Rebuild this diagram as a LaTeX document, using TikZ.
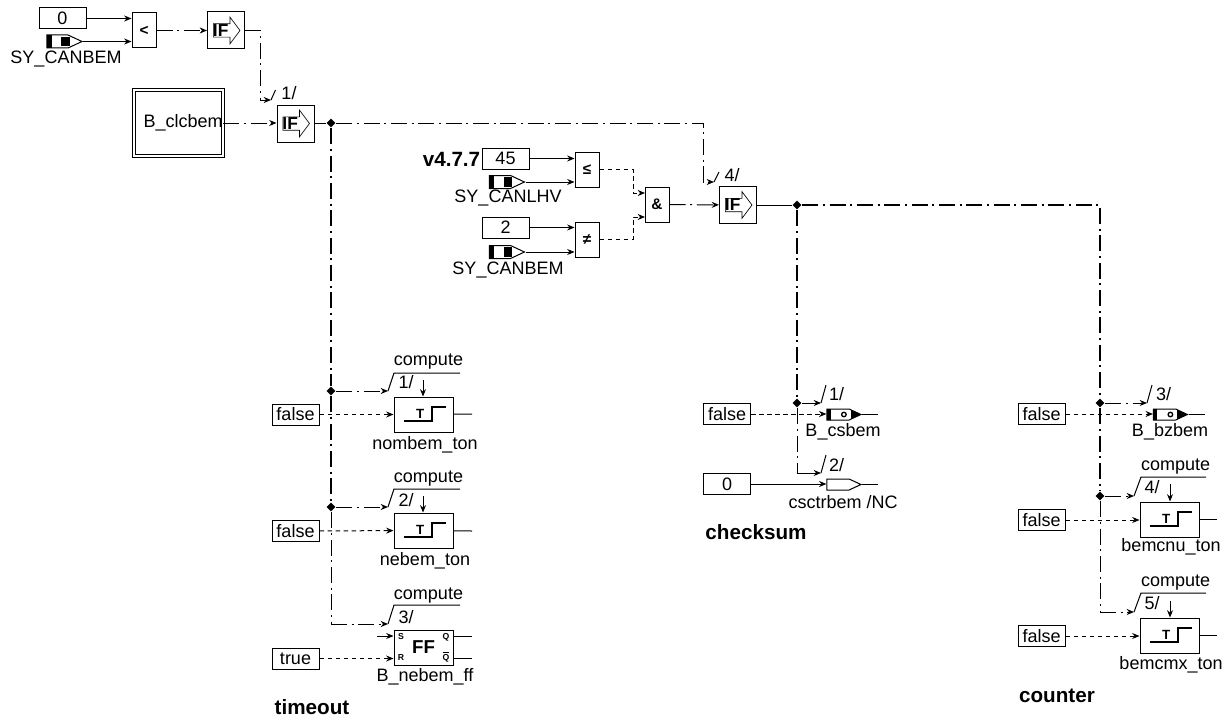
\documentclass[tikz,border=0pt]{standalone}
\usepackage{fontspec}
\setmainfont{Liberation Sans}
\usetikzlibrary{positioning, arrows.meta, shapes.geometric, shapes.symbols, calc}

\newcommand{\ifmark}{\hspace*{-8pt}IF}
\newcommand{\tonmark}{\raisebox{1.5pt}{\hspace*{-5pt}T}}

\begin{document}
\begin{tikzpicture}[
    x=0.75pt, y=-0.75pt,
    line width=0.75pt,
    >={Stealth[length=5.5pt, width=4.5pt]},
    box/.style={draw, minimum width=35.25pt, minimum height=15.75pt, inner sep=0pt, font=\fontsize{13.5}{15}\selectfont},
    op_box/.style={draw, minimum width=18pt, minimum height=26.25pt, inner sep=0pt, font=\fontsize{11.5}{13}\selectfont\bfseries},
    if_box/.style={draw, minimum width=27.75pt, minimum height=27.75pt, inner sep=0pt, font=\fontsize{13}{15}\selectfont\bfseries,
        path picture={\draw[line width=0.5pt] ([shift={(-9.5pt,5pt)}]path picture bounding box.center) -- ++(12.5pt,0) -- ++(0,5pt) -- ++(7.5pt,-10pt) -- ++(-7.5pt,-10pt) -- ++(0,5pt) -- ++(-12.5pt,0) -- cycle;}},
    ton_box/.style={draw, minimum width=44.25pt, minimum height=26.25pt, inner sep=0pt, font=\fontsize{10}{12}\selectfont\bfseries,
        path picture={\draw[line width=1.5pt] ([shift={(-15pt,-5pt)}]path picture bounding box.center) -- ++(21pt,0) -- ++(0,10.5pt) -- ++(11pt,0);}},
    in_pill/.style={draw, signal, signal to=east, signal pointer angle=50, minimum width=26.25pt, minimum height=9.75pt, inner sep=0pt,
        path picture={\fill ([shift={(-13.2pt,-5pt)}]path picture bounding box.center) rectangle ++(3.8pt,10pt);
            \fill ([shift={(-2.6pt,-3.6pt)}]path picture bounding box.center) rectangle ++(6.7pt,7.2pt);}},
    out_pill/.style={draw, signal, signal to=east, signal pointer angle=50, minimum width=25.5pt, minimum height=8.25pt, inner sep=0pt,
        path picture={\fill ([shift={(-12.75pt,-5pt)}]path picture bounding box.center) rectangle ++(3pt,10pt);
            \fill ([shift={(5.25pt,-5pt)}]path picture bounding box.center) rectangle ++(8pt,10pt);
            \draw[line width=1pt] (path picture bounding box.center) circle (1.7pt);}},
    nc_pill/.style={draw, signal, signal to=east, signal pointer angle=50, minimum width=25.5pt, minimum height=8.25pt, inner sep=0pt},
    junc/.style={diamond, fill=black, minimum size=7pt, inner sep=0pt},
    txt/.style={inner sep=0pt, font=\fontsize{13.5}{15}\selectfont},
    head/.style={inner sep=0pt, font=\fontsize{15.5}{17}\selectfont\bfseries},
    pin/.style={inner sep=0pt, font=\fontsize{6.5}{7}\selectfont\bfseries},
    ctrl/.style={dash pattern=on 12pt off 3.5pt on 1.5pt off 3.5pt},
    ctrl_bold/.style={ctrl, line width=0.95pt},
    data/.style={dash pattern=on 3.5pt off 2.5pt}
]
\useasboundingbox (0,0) rectangle (1226,717);

% ================= Top left: enable chain =================

\node[box] (const_zero_a) at (62.5,18.5) {0};
\node[in_pill] (pill_a) at (57.5,41.5) {};
\node[txt] (pill_a_txt) at (66,59) {SY\_CANBEM};
\node[op_box] (cmp_lt) at (144,30.5) {<};
\node[if_box] (if_a) at (226,30.5) {\ifmark};

\node[box, double, double distance=1.5pt, minimum width=66pt, minimum height=49pt] (clcbem) at (178.5,123) {\hspace*{7pt}B\_clcbem};
\node[if_box] (if_b) at (295.5,123.5) {\ifmark};
\node[junc] (junc_main) at (331,123) {};

\coordinate (corner_a) at (260,100);
\coordinate (tick_a) at (271,100);
\coordinate (tick_a_top) at (275.5,90);
\node[txt] (num_a) at (289,93) {1/};

\draw[->] (const_zero_a) -- (const_zero_a -| cmp_lt.west);
\draw[->] (pill_a) -- (pill_a -| cmp_lt.west);
\draw[->, ctrl] (cmp_lt) -- (if_a);
\draw[->, ctrl] (if_a) -| (corner_a) -- (tick_a);
\draw (tick_a) -- (tick_a_top);
\draw[->, ctrl] (clcbem) -- (clcbem -| if_b.west);
\draw (if_b.east |- junc_main) -- (junc_main);

% ================= Middle: version check =================

\node[head] (version) at (451.5,159) {v4.7.7};
\node[box] (const_45) at (505.5,158.5) {45};
\node[in_pill] (pill_b) at (500,182) {};
\node[txt] (pill_b_txt) at (508,198) {SY\_CANLHV};
\node[box] (const_two) at (505.5,227.5) {2};
\node[in_pill] (pill_c) at (500,252) {};
\node[txt] (pill_c_txt) at (508,270) {SY\_CANBEM};
\node[op_box] (cmp_le) at (587,169.5) {≤};
\node[op_box] (cmp_ne) at (587,239.5) {≠};
\node[op_box] (and_gate) at (657,204.5) {\&};
\node[if_box] (if_c) at (738,205) {\ifmark};
\node[junc] (junc_check) at (797,205) {};

\coordinate (in_and_a) at (645,193);
\coordinate (in_and_b) at (645,217);
\coordinate (corner_and_a) at (633,193);
\coordinate (corner_and_b) at (633,217);
\coordinate (corner_c) at (703,182);
\coordinate (tick_c) at (714,182);
\coordinate (tick_c_top) at (719,172);
\node[txt] (num_c) at (732,175) {4/};

\draw[->] (const_45) -- (const_45 -| cmp_le.west);
\draw[->] (pill_b) -- (pill_b -| cmp_le.west);
\draw[->] (const_two) -- (const_two -| cmp_ne.west);
\draw[->] (pill_c) -- (pill_c -| cmp_ne.west);
\draw[->, data] (cmp_le) -| (corner_and_a) -- (in_and_a);
\draw[->, data] (cmp_ne) -| (corner_and_b) -- (in_and_b);
\draw[->, ctrl] (and_gate) -- (if_c);
\draw[->, ctrl] (junc_main) -| (corner_c) -- (tick_c);
\draw (tick_c) -- (tick_c_top);
\draw (if_c) -- (junc_check);

% ================= timeout =================

\node[junc] (junc_t_a) at (331,391) {};
\node[junc] (junc_t_b) at (331,507) {};
\coordinate (corner_t) at (331,624);

\node[box] (false_a) at (295.5,414.5) {false};
\node[ton_box] (nombem) at (423.5,414.5) {\tonmark};
\node[txt] (nombem_txt) at (425,445) {nombem\_ton};
\node[box] (false_b) at (295.5,531) {false};
\node[ton_box] (nebem) at (423.5,530.5) {\tonmark};
\node[txt] (nebem_txt) at (425,561) {nebem\_ton};
\node[box] (true_a) at (295.5,658.5) {true};
\node[draw, minimum width=44.25pt, minimum height=26.25pt, inner sep=0pt, font=\fontsize{14}{16}\selectfont\bfseries] (flipflop) at (423.5,647.5) {FF};
\node[txt] (flipflop_txt) at (425,677) {B\_nebem\_ff};
\node[head] (timeout_txt) at (312,707) {timeout};

\node[pin] (pin_s) at (401,637) {S};
\node[pin] (pin_r) at (401,658) {R};
\node[pin] (pin_q) at (446,637) {Q};
\node[pin] (pin_nq) at (446,657) {$\overline{\mbox{Q}}$};

% compute rails
\coordinate (tick_t_a) at (388,391);
\coordinate (rail_t_a) at (394,373);
\coordinate (rail_t_a_end) at (460,373);
\coordinate (drop_t_a) at (423,380);
\node[txt] (compute_a) at (428.5,362) {compute};
\node[txt] (num_t_a) at (406,382) {1/};

\coordinate (tick_t_b) at (388,507);
\coordinate (rail_t_b) at (394,489);
\coordinate (rail_t_b_end) at (460,489);
\coordinate (drop_t_b) at (423,496);
\node[txt] (compute_b) at (428.5,479) {compute};
\node[txt] (num_t_b) at (406,500) {2/};

\coordinate (tick_t_c) at (388,624);
\coordinate (rail_t_c) at (394,605);
\coordinate (rail_t_c_end) at (460,605);
\node[txt] (compute_c) at (428.5,596) {compute};
\node[txt] (num_t_c) at (406,617) {3/};

\coordinate (end_t_a) at (472,414);
\coordinate (end_t_b) at (472,531);
\coordinate (in_t_s) at (377,636);
\coordinate (end_t_q) at (472,636);
\coordinate (end_t_nq) at (472,658);

\draw[ctrl_bold] (junc_main) -- (junc_t_a);
\draw[ctrl_bold] (junc_t_a) -- (junc_t_b);
\draw[ctrl] (junc_t_b) -- (corner_t);
\draw[->, ctrl] (junc_t_a) -- (tick_t_a);
\draw[->, ctrl] (junc_t_b) -- (tick_t_b);
\draw[->, ctrl] (corner_t) -- (tick_t_c);
\draw (tick_t_a) -- (rail_t_a) -- (rail_t_a_end);
\draw (tick_t_b) -- (rail_t_b) -- (rail_t_b_end);
\draw (tick_t_c) -- (rail_t_c) -- (rail_t_c_end);
\draw[->] (drop_t_a) -- (drop_t_a |- nombem.north);
\draw[->] (drop_t_b) -- (drop_t_b |- nebem.north);
\draw[->, data] (false_a) -- (nombem);
\draw[->, data] (false_b) -- (nebem);
\draw[->, data] (true_a) -- (true_a -| flipflop.west);
\draw[->] (in_t_s) -- (in_t_s -| flipflop.west);
\draw (nombem) -- (end_t_a);
\draw (nebem) -- (end_t_b);
\draw (end_t_q -| flipflop.east) -- (end_t_q);
\draw (end_t_nq -| flipflop.east) -- (end_t_nq);

% ================= checksum =================

\node[junc] (junc_c_a) at (797,403) {};
\coordinate (corner_c_b) at (797,473);
\coordinate (tick_s_a) at (821,403);
\coordinate (tick_s_a_top) at (826,385);
\coordinate (tick_s_b) at (821,473);
\coordinate (tick_s_b_top) at (826,455);
\node[txt] (num_s_a) at (836.5,394) {1/};
\node[txt] (num_s_b) at (836.5,465) {2/};

\node[box] (false_c) at (727,414) {false};
\node[out_pill] (csbem) at (838,414.5) {};
\node[txt] (csbem_txt) at (843,432) {B\_csbem};
\node[box] (const_zero_b) at (727,484) {0};
\node[nc_pill] (csctr) at (838,484.5) {};
\node[txt] (csctr_txt) at (843,502) {csctrbem /NC};
\node[head] (checksum_txt) at (756,532) {checksum};

\coordinate (end_s_a) at (878,414.5);
\coordinate (end_s_b) at (878,484.5);

\draw[ctrl_bold] (junc_check) -- (junc_c_a);
\draw[ctrl] (junc_c_a) -- (corner_c_b);
\draw[->] (junc_c_a) -- (tick_s_a);
\draw[->] (corner_c_b) -- (tick_s_b);
\draw (tick_s_a) -- (tick_s_a_top);
\draw (tick_s_b) -- (tick_s_b_top);
\draw[->, data] (false_c) -- (false_c -| csbem.west);
\draw[->] (const_zero_b) -- (const_zero_b -| csctr.west);
\draw (csbem) -- (end_s_a);
\draw (csctr) -- (end_s_b);

% ================= counter =================

\node[junc] (junc_n_a) at (1100,403) {};
\node[junc] (junc_n_b) at (1100,496) {};
\coordinate (corner_top) at (1100,205);
\coordinate (corner_n) at (1100,612);

\node[box] (false_d) at (1041.5,414) {false};
\node[out_pill] (bzbem) at (1164.5,414.5) {};
\node[txt] (bzbem_txt) at (1170,432) {B\_bzbem};
\node[box] (false_e) at (1041.5,520) {false};
\node[ton_box] (bemcnu) at (1169.5,519.5) {\tonmark};
\node[txt] (bemcnu_txt) at (1171,547) {bemcnu\_ton};
\node[box] (false_f) at (1041.5,636) {false};
\node[ton_box] (bemcmx) at (1169.5,635.5) {\tonmark};
\node[txt] (bemcmx_txt) at (1171,665) {bemcmx\_ton};
\node[head] (counter_txt) at (1057,696) {counter};

\coordinate (tick_n_a) at (1147,403);
\coordinate (tick_n_a_top) at (1152,385);
\node[txt] (num_n_a) at (1163.5,394) {3/};
\coordinate (tick_n_b) at (1134,496);
\coordinate (rail_n_b) at (1141,477);
\coordinate (rail_n_b_end) at (1206,477);
\coordinate (drop_n_b) at (1170,484);
\node[txt] (compute_d) at (1175.5,467) {compute};
\node[txt] (num_n_b) at (1152,487) {4/};
\coordinate (tick_n_c) at (1134,612);
\coordinate (rail_n_c) at (1141,593);
\coordinate (rail_n_c_end) at (1206,593);
\coordinate (drop_n_c) at (1170,601);
\node[txt] (compute_e) at (1175.5,583) {compute};
\node[txt] (num_n_c) at (1152,603) {5/};

\coordinate (end_n_a) at (1205,414.5);
\coordinate (end_n_b) at (1217,519.5);
\coordinate (end_n_c) at (1217,635.5);

\draw[ctrl_bold] (junc_check) -- (corner_top) -- (junc_n_a);
\draw[ctrl_bold] (junc_n_a) -- (junc_n_b);
\draw[ctrl] (junc_n_b) -- (corner_n);
\draw[->, ctrl] (junc_n_a) -- (tick_n_a);
\draw[->, ctrl] (junc_n_b) -- (tick_n_b);
\draw[->, ctrl] (corner_n) -- (tick_n_c);
\draw (tick_n_a) -- (tick_n_a_top);
\draw (tick_n_b) -- (rail_n_b) -- (rail_n_b_end);
\draw (tick_n_c) -- (rail_n_c) -- (rail_n_c_end);
\draw[->] (drop_n_b) -- (drop_n_b |- bemcnu.north);
\draw[->] (drop_n_c) -- (drop_n_c |- bemcmx.north);
\draw[->, data] (false_d) -- (false_d -| bzbem.west);
\draw[->, data] (false_e) -- (false_e -| bemcnu.west);
\draw[->, data] (false_f) -- (false_f -| bemcmx.west);
\draw (bzbem) -- (end_n_a);
\draw (bemcnu) -- (end_n_b);
\draw (bemcmx) -- (end_n_c);

\end{tikzpicture}
\end{document}
